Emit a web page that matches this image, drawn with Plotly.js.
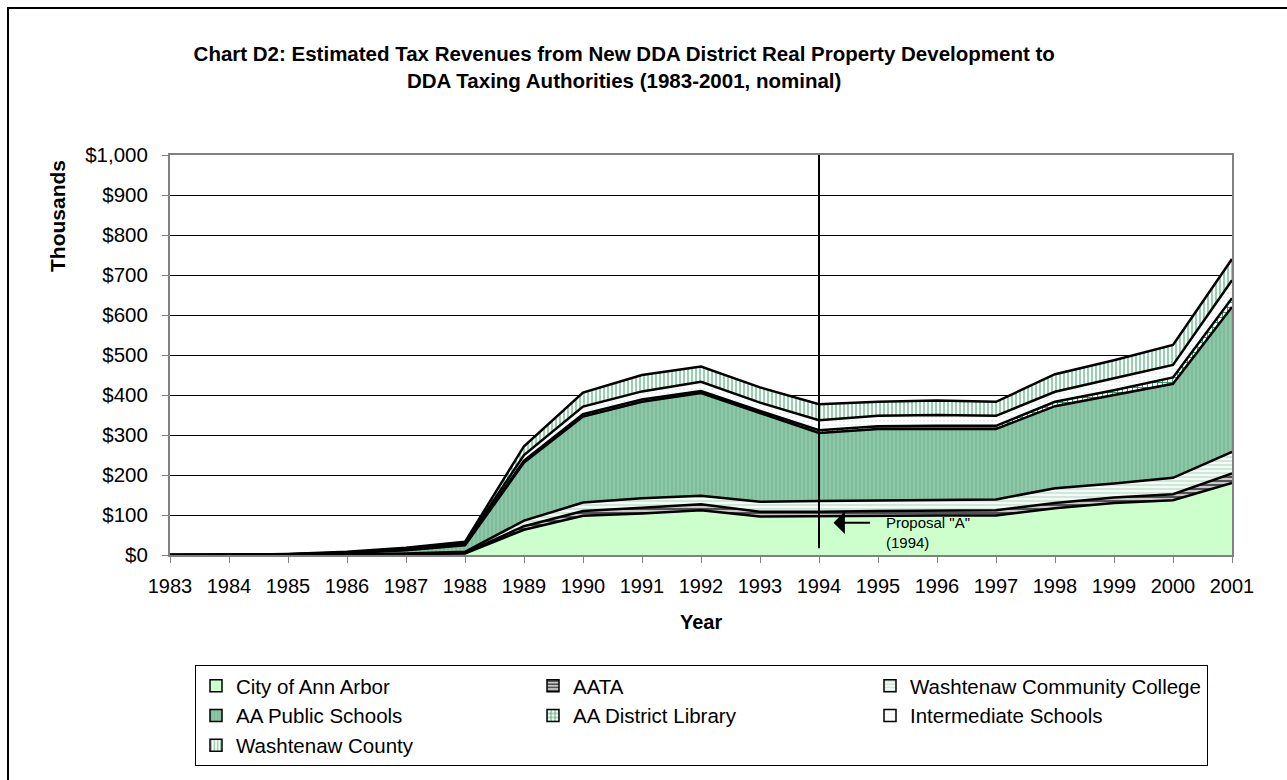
<!DOCTYPE html>
<html>
<head>
<meta charset="utf-8">
<script src="https://cdn.plot.ly/plotly-3.0.1.min.js"></script>
<style>
  html, body { margin:0; padding:0; background:#fff; overflow:hidden; }
  #chart { position:absolute; left:0; top:0; width:1287px; height:780px; }
  #frame { position:absolute; left:7px; top:7px; width:1400px; height:900px; border:2px solid #000; pointer-events:none; }
</style>
</head>
<body>
<div id="chart"></div>
<div id="frame"></div>
<script>
// ---- data (thousands of dollars, nominal) ----
const years = [1983,1984,1985,1986,1987,1988,1989,1990,1991,1992,1993,1994,1995,1996,1997,1998,1999,2000,2001];
const cityAnnArbor   = [0,0,0.3,1,2,4,63,98,104,112,96,97,99,99,99,117,130,137,180];
const aata           = [0,0,0.1,0.3,0.5,1,9,12,14,15,12,11,11,12,13,13,14,15,24];
const wcc            = [0,0,0.2,0.7,1.5,3,14,21,24,21,25,27,26,26,27,37,35,41,54];
const aaPublicSchools= [0,0,0.9,3,8,16,145,215,241,257,222,170,179,178,176,205,221,235,362];
const aaLibrary      = [0,0,0.2,0.5,1,2,5,6,6,5,5,7,7,8,8,11,12,16,22];
const intermediate   = [0,0,0.3,1,2,3,14,19,20,23,21,25,26,27,25,25,30,31,45];
const washtenawCounty= [0,0,0.5,1.5,3,4,22,35,41,38,38,40,35,36,35,44,45,50,53];
const seriesNames = ["City of Ann Arbor","AATA","Washtenaw Community College","AA Public Schools","AA District Library","Intermediate Schools","Washtenaw County"];
const yTickVals = [0,100,200,300,400,500,600,700,800,900,1000];
const yTickText = ["$0","$100","$200","$300","$400","$500","$600","$700","$800","$900","$1,000"];

const seriesValues = [cityAnnArbor, aata, wcc, aaPublicSchools, aaLibrary, intermediate, washtenawCounty];
const styles = [
  {fill:'#CCFFCC', pat:{shape:'', bgcolor:'#CCFFCC', fgcolor:'#CCFFCC'}},
  {fill:'#999999', pat:{shape:'-', bgcolor:'#C8C8C8', fgcolor:'#444444', size:4, solidity:0.45}},
  {fill:'#EEF7F2', pat:{shape:'-', bgcolor:'#F4FAF6', fgcolor:'#B8DCC8', size:4, solidity:0.3}},
  {fill:'#88C4A4', pat:{shape:'|', bgcolor:'#8CC8A8', fgcolor:'#76B592', size:4, solidity:0.3}},
  {fill:'#66AA88', pat:{shape:'+', bgcolor:'#FFFFFF', fgcolor:'#2E9960', size:5, solidity:0.35}},
  {fill:'#FFFFFF', pat:{shape:'.', bgcolor:'#FFFFFF', fgcolor:'#E4F0EA', size:4, solidity:0.2}},
  {fill:'#CCEEDD', pat:{shape:'|', bgcolor:'#FFFFFF', fgcolor:'#95D0B0', size:4, solidity:0.5}}
];

const font = 'Liberation Sans, Arial, sans-serif';
const traces = [];
seriesValues.forEach((vals, i) => {
  const s = styles[i];
  const t = {
    type:'scatter', mode:'lines', x:years, y:vals, stackgroup:'one',
    name:seriesNames[i], showlegend:false, hoverinfo:'skip',
    line:{color:'#000', width:2.5}, fillcolor:s.fill
  };
  if (s.pat.shape) t.fillpattern = s.pat;
  traces.push(t);
});
// legend entries
seriesValues.forEach((vals, i) => {
  const s = styles[i];
  traces.push({
    type:'bar', x:[null], y:[null], name:seriesNames[i], showlegend:true, hoverinfo:'skip',
    marker:{color:s.pat.bgcolor, line:{color:'#000', width:1.5},
            pattern: s.pat.shape ? s.pat : {shape:''}}
  });
});

const layout = {
  width:1287, height:780,
  margin:{l:170, r:55, t:155, b:225},
  paper_bgcolor:'#fff', plot_bgcolor:'#fff',
  font:{family:font, color:'#000', size:20},
  title:{text:'<b>Chart D2: Estimated Tax Revenues from New DDA District Real Property Development to<br>DDA Taxing Authorities (1983-2001, nominal)</b>',
         font:{family:font, size:20.5, color:'#000'}, xref:'container', x:0.485, xanchor:'center',
         yref:'container', y:1-61/780, yanchor:'middle'},
  xaxis:{range:[1983,2001], tickvals:years, ticktext:years.map(String), ticks:'outside', ticklen:6,
         tickcolor:'#808080', showgrid:false, showline:true, linecolor:'#808080', linewidth:2, mirror:true,
         zeroline:false, tickfont:{size:20}, ticklabelstandoff:6, fixedrange:true},
  yaxis:{range:[0,1000], tickvals:yTickVals, ticktext:yTickText, ticks:'outside', ticklen:6,
         tickcolor:'#808080', showgrid:true, gridcolor:'#000', gridwidth:1, showline:true, linecolor:'#808080',
         linewidth:2, mirror:true, zeroline:false, tickfont:{size:20.5}, ticklabelstandoff:10, fixedrange:true},
  showlegend:true,
  legend:{orientation:'h', x:(195-170)/1062, xanchor:'left', y:(555-665)/400, yanchor:'top',
          bordercolor:'#000', borderwidth:1, bgcolor:'#fff', font:{size:20.5, family:font},
          entrywidth:292, entrywidthmode:'pixels', itemwidth:30, traceorder:'normal'},
  shapes:[
    {type:'line', xref:'x', yref:'y', x0:1994, x1:1994, y0:17, y1:1000, line:{color:'#000', width:2}}
  ],
  annotations:[
    {xref:'paper', yref:'paper', x:(57-170)/1062, y:(555-216)/400, text:'<b>Thousands</b>', textangle:-90,
     showarrow:false, font:{size:21, family:font}, xanchor:'center', yanchor:'middle'},
    {xref:'paper', yref:'paper', x:(701-170)/1062, y:(555-622)/400, text:'<b>Year</b>',
     showarrow:false, font:{size:20, family:font}, xanchor:'center', yanchor:'middle'},
    {xref:'x', yref:'y', x:1983+(833.5-170)/59, y:(555-522.7)/0.4, text:'', showarrow:true,
     ax:38, ay:0, arrowhead:1, arrowsize:1.9, arrowwidth:2, arrowcolor:'#000', standoff:0, startstandoff:0},
    {xref:'x', yref:'y', x:1983+(884-170)/59, y:(555-532)/0.4, text:'Proposal "A"<br>(1994)', showarrow:false,
     xanchor:'left', yanchor:'middle', align:'left', font:{size:15, family:font}}
  ]
};

Plotly.newPlot('chart', traces, layout, {displayModeBar:false, staticPlot:true});
</script>
</body>
</html>
